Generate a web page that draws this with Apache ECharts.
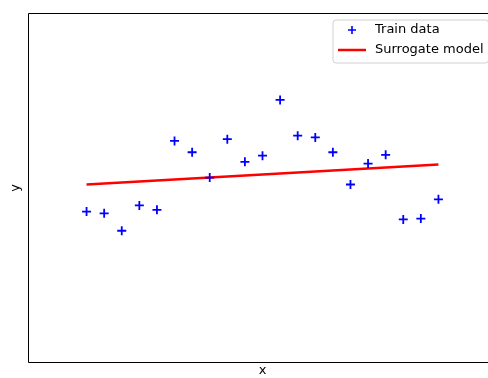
<!DOCTYPE html>
<html><head><meta charset="utf-8">
<script src="https://cdn.jsdelivr.net/npm/echarts@6/dist/echarts.min.js"></script>
<style>html,body{margin:0;padding:0;background:#fff}#c{width:488px;height:378px}</style>
</head><body><div id="c"></div>
<script>
var trainX = [0,1,2,3,4,5,6,7,8,9,10,11,12,13,14,15,16,17,18,19,20];
var trainY = [-0.27,-0.29,-0.49,-0.20,-0.25,0.54,0.41,0.12,0.56,0.30,0.37,1.01,0.60,0.58,0.41,0.04,0.28,0.38,-0.36,-0.35,-0.13];
var modelX = [0,20];
var modelY = [0.04,0.27];
var seriesNames = ['Train data','Surrogate model'];

var plusPath = 'path://M4,0H6V4H10V6H6V10H4V6H0V4H4Z';
var linePath = 'path://M0,0H28V2.5H0Z';
var chart = echarts.init(document.getElementById('c'), null, {renderer:'canvas'});
var font = 'DejaVu Sans';
chart.setOption({
  animation:false,
  grid:{left:28.5, top:13.5, width:468, height:349, show:true, borderColor:'#000', borderWidth:1, backgroundColor:'#fff',
    containLabel:false, outerBoundsMode:'none'},
  xAxis:{type:'value', min:-3.3, max:23.3, name:'x', nameLocation:'middle', nameGap:2,
    nameTextStyle:{fontFamily:font, fontSize:13, color:'#000'},
    axisLine:{show:false}, axisTick:{show:false}, axisLabel:{show:false}, splitLine:{show:false}},
  yAxis:{type:'value', min:-2, max:2, name:'y', nameLocation:'middle', nameGap:6, nameRotate:90,
    nameTextStyle:{fontFamily:font, fontSize:13, color:'#000'},
    axisLine:{show:false}, axisTick:{show:false}, axisLabel:{show:false}, splitLine:{show:false}},
  legend:{left:333, top:20, orient:'vertical', itemWidth:28, itemHeight:8, itemGap:6,
    padding:[3,5,6,5], borderColor:'#d0d0d0', borderWidth:1, borderRadius:3, backgroundColor:'rgba(255,255,255,0.8)',
    symbolKeepAspect:true,
    textStyle:{fontFamily:font, fontSize:13, color:'#000', lineHeight:14, padding:[0,0,0,4]},
    data:[{name:seriesNames[0], icon:plusPath},{name:seriesNames[1], icon:linePath}]},
  series:[
    {name:seriesNames[0], type:'scatter', symbol:plusPath, symbolSize:9,
      itemStyle:{color:'#0000ff', opacity:1}, z:3,
      data:trainX.map(function(x,i){return [x,trainY[i]];})},
    {name:seriesNames[1], type:'line', symbol:'none', lineStyle:{color:'#ff0000', width:2.5},
      itemStyle:{color:'#ff0000'}, z:2,
      data:modelX.map(function(x,i){return [x,modelY[i]];})}
  ]
});
</script></body></html>
